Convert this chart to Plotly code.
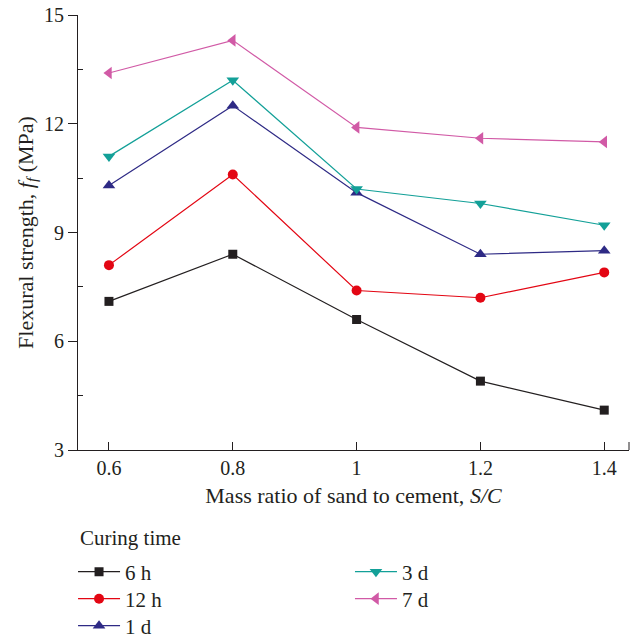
import plotly.graph_objects as go

sc = [0.6, 0.8, 1.0, 1.2, 1.4]
names = ["6 h", "12 h", "1 d", "3 d", "7 d"]
v_6h = [7.1, 8.4, 6.6, 4.9, 4.1]
v_12h = [8.1, 10.6, 7.4, 7.2, 7.9]
v_1d = [10.3, 12.5, 10.1, 8.4, 8.5]
v_3d = [11.1, 13.2, 10.2, 9.8, 9.2]
v_7d = [13.4, 14.3, 11.9, 11.6, 11.5]
series = [v_6h, v_12h, v_1d, v_3d, v_7d]
x_ticktext = ["0.6", "0.8", "1", "1.2", "1.4"]
y_tickvals = [3, 6, 9, 12, 15]
y_minor = [4.5, 7.5, 10.5, 13.5]
colors = ["#231f20", "#e30613", "#2e2a85", "#13a098", "#d15aa6"]
symbols = ["square", "circle", "triangle-up", "triangle-down", "triangle-left"]
sizes = [9, 10, 11, 11, 11]
legend_ids = ["legend", "legend2", "legend3", "legend4", "legend5"]

FONT = "Liberation Serif"
INK = "#231f20"

fig = go.Figure()
for i, (n, v) in enumerate(zip(names, series)):
    fig.add_trace(go.Scatter(
        x=sc, y=v, name=n, mode="lines+markers",
        line=dict(color=colors[i], width=1.2),
        marker=dict(symbol=symbols[i], size=sizes[i], color=colors[i]),
        legend=legend_ids[i], showlegend=True,
    ))

# legend placement (paper coords): left col / right col, three rows
col_x = [-0.009, -0.009, -0.009, 0.4936, 0.4936]
row_y = [-0.2335, -0.2955, -0.3575, -0.2335, -0.2955]
legend_layout = {}
for i, lid in enumerate(legend_ids):
    legend_layout[lid] = dict(
        x=col_x[i], xanchor="left", y=row_y[i], yanchor="top",
        xref="paper", yref="paper", orientation="v",
        itemwidth=42, font=dict(size=21, family=FONT, color=INK),
        bgcolor="rgba(0,0,0,0)", visible=True,
    )

fig.update_layout(
    width=637, height=635, showlegend=True,
    margin=dict(l=78, r=8, t=15, b=185, autoexpand=False),
    paper_bgcolor="white", plot_bgcolor="white",
    font=dict(family=FONT, size=18, color=INK),
    xaxis=dict(
        range=[0.55, 1.44], tickvals=sc, ticktext=x_ticktext,
        ticks="inside", ticklen=8, tickcolor=INK, tickfont=dict(size=20),
        showline=True, linecolor=INK, linewidth=1,
        showgrid=False, zeroline=False,
        title=dict(text="Mass ratio of sand to cement, <i>S/C</i>", standoff=9),
    ),
    yaxis=dict(
        range=[3, 15], tickvals=y_tickvals,
        ticks="outside", ticklen=9, tickcolor=INK, tickfont=dict(size=20),
        minor=dict(tickvals=y_minor, ticks="inside", ticklen=5, tickcolor=INK),
        showline=True, linecolor=INK, linewidth=1,
        showgrid=False, zeroline=False,
        title=dict(text="Flexural strength, <i>f</i><sub><i>f</i></sub> (MPa)", standoff=4),
    ),
    yaxis2=dict(
        range=[3, 15], overlaying="y", side="left", tickvals=y_tickvals,
        ticks="inside", ticklen=9, tickcolor=INK, showticklabels=False,
        showline=False, showgrid=False, zeroline=False,
    ),
    annotations=[dict(
        text="Curing time", xref="paper", yref="paper", x=0, xanchor="left",
        y=-88 / 435, yanchor="middle", showarrow=False, font=dict(size=21, family=FONT, color=INK),
    )],
    shapes=[dict(type="line", xref="x domain", yref="y domain",
                 x0=1, x1=1, y0=0, y1=8/435, line=dict(color=INK, width=1))],
    **legend_layout,
)

fig.write_html("out.html")
